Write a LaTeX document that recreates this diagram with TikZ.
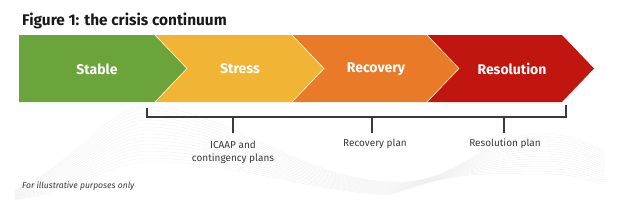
\documentclass[tikz,border=0pt]{standalone}
\usepackage{fontspec}
\setmainfont{Fira Sans}
\definecolor{cgreen}{HTML}{6BA43A}
\definecolor{cyellow}{HTML}{F2B434}
\definecolor{corange}{HTML}{E97A28}
\definecolor{cred}{HTML}{C0160F}
\definecolor{cdark}{HTML}{3A3A3A}
\definecolor{cwave}{HTML}{EDEDED}
\tikzset{
  seg/.style={draw=white!85!yellow, line width=0.6pt, line join=miter},
  segtext/.style={text=white, font=\fontsize{14}{16}\selectfont\bfseries, anchor=center, inner sep=0pt},
  bracket/.style={draw=cdark, line width=1.3pt},
  lbl/.style={text=cdark, font=\fontsize{10}{13}\selectfont, align=center, anchor=north, inner sep=0pt},
  wave/.style={draw=cwave, line width=0.3pt}
}
\begin{document}
\begin{tikzpicture}[x=1pt,y=-1pt]
\useasboundingbox (0,0) rectangle (637,201);
% background wave
\foreach \i in {0,...,16} {
  \draw[wave] (15,{190+0.6*\i}) .. controls (80,{160+2*\i}) and (110,{104+3.5*\i}) .. (150,{106+3.5*\i})
     .. controls (230,{112+3*\i}) and (300,{178+0.8*\i}) .. (390,{182+0.8*\i})
     .. controls (460,{186-\i}) and (480,{134+2.5*\i}) .. (540,{134+2.5*\i})
     .. controls (580,{134+2.4*\i}) and (595,{148+2.3*\i}) .. (605,{152+2*\i});
}
% title
\node[anchor=base west, inner sep=0pt, font=\fontsize{15.4}{18}\selectfont\bfseries, text=black!90] (title) at (22,25.5) {Figure 1: the crisis continuum};
% chevrons
\fill[cgreen] (19,35) -- (155,35) -- (187,68.5) -- (155,102) -- (19,102) -- cycle;
\fill[cyellow] (155,35) -- (292,35) -- (324,68.5) -- (292,102) -- (155,102) -- (187,68.5) -- cycle;
\fill[corange] (292,35) -- (427,35) -- (459,68.5) -- (427,102) -- (292,102) -- (324,68.5) -- cycle;
\fill[cred] (427,35) -- (562,35) -- (594,68.5) -- (562,102) -- (427,102) -- (459,68.5) -- cycle;
\draw[seg] (155,35) -- (187,68.5) -- (155,102);
\draw[seg] (292,35) -- (324,68.5) -- (292,102);
\draw[seg] (427,35) -- (459,68.5) -- (427,102);
\node[segtext] (stable) at (97,69) {Stable};
\node[segtext] (stress) at (240,69) {Stress};
\node[segtext] (recovery) at (376,69) {Recovery};
\node[segtext] (resolution) at (512,69) {Resolution};
% bracket
\coordinate (bl) at (147,108);
\coordinate (br) at (566,105);
\draw[bracket] (bl) -- (147,117) -- (566,117) -- (br);
\coordinate (t1) at (233,117);
\coordinate (t2) at (372,117);
\coordinate (t3) at (504,117);
\node[lbl] (icaap) at (233,141) {ICAAP and\\contingency plans};
\node[lbl] (recplan) at (375,138.5) {Recovery plan};
\node[lbl] (resplan) at (505,138.5) {Resolution plan};
\draw[bracket] (t1) -- (233,133);
\draw[bracket] (t2) -- (372,133);
\draw[bracket] (t3) -- (504,133);
% note
\node[anchor=base west, inner sep=0pt, font=\fontsize{8.6}{10}\selectfont\itshape, text=cdark] (note) at (22,188) {For illustrative purposes only};
\end{tikzpicture}
\end{document}
